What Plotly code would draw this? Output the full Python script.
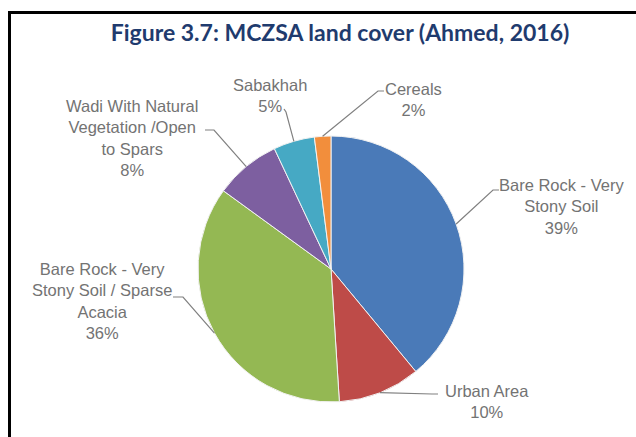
import math
import plotly.graph_objects as go

# data
labels = ["Bare Rock - Very Stony Soil", "Urban Area",
          "Bare Rock - Very Stony Soil / Sparse Acacia",
          "Wadi With Natural Vegetation /Open to Spars", "Sabakhah", "Cereals"]
label_lines = [["Bare Rock - Very", "Stony Soil"], ["Urban Area"],
               ["Bare Rock - Very", "Stony Soil / Sparse", "Acacia"],
               ["Wadi With Natural", "Vegetation /Open", "to Spars"],
               ["Sabakhah"], ["Cereals"]]
values = [39, 10, 36, 8, 5, 2]
colors = ["#4A7AB8", "#BE4B48", "#94B853", "#7D5FA0", "#46A9C4", "#F28E3C"]

W, H = 636, 437
CX, CY, R = 331, 269, 133


def px(x):
    return x / W


def py(y):
    return 1 - y / H


# label block centre and leader-line elbow points (pixels)
label_pos = [(561, 207), (487, 401), (102, 301), (132, 138), (270, 96), (413, 99)]
elbows = [[(493, 190), (499, 190)], [(432, 394), (438, 394)],
          [(183, 297), (173, 297)], [(214, 130), (205, 130)],
          [(286, 112), (284, 109)], [(378, 91), (384, 91)]]

fig = go.Figure(go.Pie(
    labels=labels, values=values, sort=False, direction="clockwise", rotation=0,
    marker=dict(colors=colors, line=dict(color="#F2F2F2", width=1)),
    textinfo="none", hoverinfo="label+percent", showlegend=False,
    domain=dict(x=[px(CX - R), px(CX + R)], y=[py(CY + R), py(CY - R)]),
))

total = sum(values)
cum = 0
shapes = []
annotations = []
for i, v in enumerate(values):
    mid = (cum + v / 2) / total * 2 * math.pi
    cum += v
    ax = CX + R * math.sin(mid)
    ay = CY - R * math.cos(mid)
    pts = [(ax, ay)] + elbows[i]
    path = "M " + " L ".join(f"{px(x):.5f},{py(y):.5f}" for x, y in pts)
    shapes.append(dict(type="path", path=path, xref="paper", yref="paper",
                       line=dict(color="#808080", width=1.2)))
    text = "<br>".join(label_lines[i] + [f"{v}%"])
    lx, ly = label_pos[i]
    annotations.append(dict(text=text, x=px(lx), y=py(ly), xref="paper", yref="paper",
                            xanchor="center", yanchor="middle", showarrow=False,
                            font=dict(family="Liberation Sans", size=16.5, color="#737373")))

# frame (top and left edges visible in the crop)
shapes.append(dict(type="line", xref="paper", yref="paper", x0=px(8.5), x1=1.05,
                   y0=py(12.5), y1=py(12.5), line=dict(color="black", width=3)))
shapes.append(dict(type="line", xref="paper", yref="paper", x0=px(9.5), x1=px(9.5),
                   y0=py(11), y1=-0.05, line=dict(color="black", width=3)))

fig.update_layout(
    width=W, height=H, autosize=False,
    margin=dict(l=0, r=0, t=0, b=0),
    paper_bgcolor="white", plot_bgcolor="white",
    title=dict(text="<b>Figure 3.7: MCZSA land cover (Ahmed, 2016)</b>",
               x=px(340), xanchor="center", y=py(33), yanchor="middle",
               font=dict(family="Lato", size=23, color="#1F3B6E")),
    shapes=shapes, annotations=annotations,
)

# drop the default 8px body margin so the figure fills the window
fig.write_html("out.html", config={"displayModeBar": False},
               post_script="document.body.style.margin='0';document.body.style.overflow='hidden';")
